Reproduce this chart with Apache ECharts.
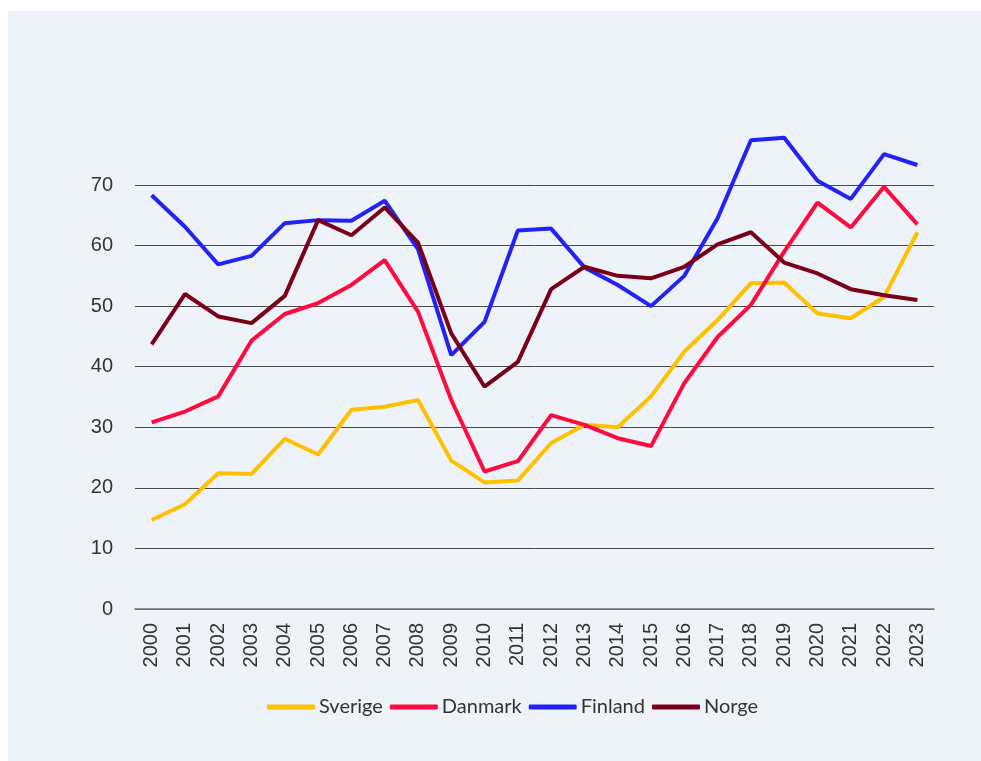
<!DOCTYPE html>
<html>
<head>
<meta charset="utf-8">
<script src="https://cdn.jsdelivr.net/npm/echarts@6/dist/echarts.min.js"></script>
<style>
html,body{margin:0;padding:0;background:#ffffff;}
#c{width:981px;height:761px;}
</style>
</head>
<body>
<div id="c"></div>
<script>
const years = ['2000','2001','2002','2003','2004','2005','2006','2007','2008','2009','2010','2011','2012','2013','2014','2015','2016','2017','2018','2019','2020','2021','2022','2023'];
const sverige = [14.7,17.3,22.4,22.3,28.1,25.5,32.9,33.4,34.5,24.5,20.9,21.2,27.4,30.4,30.0,35.1,42.5,47.7,53.8,53.9,48.8,48.0,51.5,62.2];
const danmark = [30.8,32.6,35.1,44.3,48.7,50.5,53.5,57.6,49.1,34.5,22.7,24.4,32.0,30.4,28.2,26.9,37.3,44.9,50.2,59.0,67.1,63.0,69.7,63.5];
const finland = [68.3,63.1,56.9,58.3,63.7,64.2,64.1,67.4,59.4,41.9,47.4,62.5,62.8,56.4,53.5,50.0,55.0,64.5,77.4,77.8,70.7,67.7,75.1,73.3];
const norge   = [43.7,52.0,48.3,47.2,51.7,64.2,61.7,66.3,60.5,45.5,36.7,40.8,52.8,56.5,55.0,54.6,56.5,60.2,62.2,57.2,55.4,52.8,51.8,51.0];
const seriesNames = ['Sverige','Danmark','Finland','Norge'];
const colors = ['#FFC000','#FF0A3C','#2222F5','#7A0019'];

const chart = echarts.init(document.getElementById('c'), null, {renderer:'canvas'});
const dataSets = [sverige, danmark, finland, norge];
chart.setOption({
  animation:false,
  backgroundColor:'transparent',
  graphic:[{type:'rect', z:-10, shape:{x:8,y:11,width:973,height:750}, style:{fill:'#EEF3FA'}}],
  grid:{left:135, right:47, top:185, bottom:152},
  legend:{
    data:seriesNames.map(n=>({name:n, icon:'roundRect'})), bottom:39, left:262,
    itemWidth:48, itemHeight:5, itemGap:7,
    textStyle:{fontFamily:'Lato, sans-serif', fontSize:20, color:'#333333', padding:[0,0,0,-1]}
  },
  xAxis:{
    type:'category', data:years, boundaryGap:true,
    axisLine:{lineStyle:{color:'#777777', width:1.5}},
    axisTick:{show:false},
    axisLabel:{rotate:90, fontFamily:'Liberation Sans, Arial, sans-serif', fontSize:20, color:'#333333', margin:14, interval:0}
  },
  yAxis:{
    type:'value', min:0, max:70, interval:10,
    axisLine:{show:false}, axisTick:{show:false},
    splitLine:{lineStyle:{color:'#4a4a4a', width:1}},
    axisLabel:{fontFamily:'Liberation Sans, Arial, sans-serif', fontSize:20, color:'#333333', margin:22}
  },
  series: seriesNames.map((n,i)=>({
    name:n, type:'line', data:dataSets[i], symbol:'none', clip:false,
    lineStyle:{color:colors[i], width:4}, itemStyle:{color:colors[i]}
  }))
});
</script>
</body>
</html>
